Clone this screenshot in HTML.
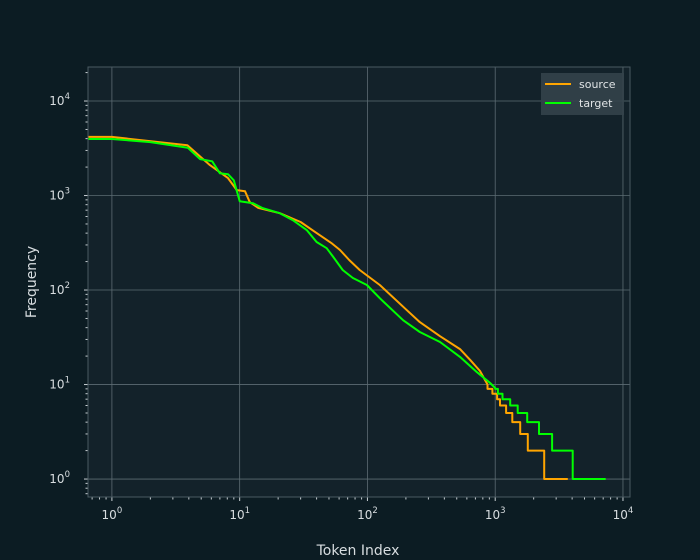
<!DOCTYPE html>
<html><head><meta charset="utf-8"><style>
body{margin:0;background:#0c1c23;}
svg{display:block;font-family:"DejaVu Sans","Liberation Sans",sans-serif;}
</style></head><body>
<svg id="chart" width="700" height="560">
<rect width="700" height="560" fill="#0c1c23"/>
<rect x="88" y="67" width="542" height="430" fill="#13222a"/>
<g id="grid"></g><g id="ticks"></g><g id="series"></g>
<rect x="88" y="67" width="542" height="430" fill="none" stroke="#4a5a62" stroke-width="1"/>
<text x="358" y="555" fill="#d8dde0" font-size="14" text-anchor="middle">Token Index</text>
<text x="36" y="282" fill="#d8dde0" font-size="14" text-anchor="middle" transform="rotate(-90 36 282)">Frequency</text>
<g>
<rect x="541" y="73" width="83" height="42" fill="#34434a" opacity="0.9"/>
<line x1="545" y1="84" x2="571" y2="84" stroke="#ffa500" stroke-width="2"/>
<text x="579" y="88" fill="#e0e4e6" font-size="11">source</text>
<line x1="545" y1="103" x2="571" y2="103" stroke="#00ff00" stroke-width="2"/>
<text x="579" y="107" fill="#e0e4e6" font-size="11">target</text>
</g>
</svg>
<script>
const sourceRanks=[0.65,1,3.9,5.85,8.1,9.5,11,12,14,20.6,30,39,52,61,72,87,125,204,257,370,530,640,760,870,870,950,950,1035,1035,1090,1090,1218,1218,1360,1360,1570,1570,1800,1800,2420,2420,3700];
const sourceFreqs=[4170,4170,3400,2100,1530,1140,1110,850,740,650,525,410,315,265,208,163,113,61,45.8,32.5,23.7,18.1,13.9,10,9,9,8,8,7,7,6,6,5,5,4,4,3,3,2,2,1,1];
const targetRanks=[0.65,1,2,3.93,4.9,6.1,7,8.1,9,10,12.7,15,20.6,26,33.6,40,48,54,64,77,99,125,190,257,370,530,720,910,1000,1000,1050,1050,1140,1140,1310,1310,1500,1500,1780,1780,2200,2200,2790,2790,4040,4040,7330];
const targetFreqs=[3960,3960,3680,3200,2430,2300,1720,1680,1450,870,830,740,650,550,430,322,277,224,163,134,113,82,48,36,28.2,19.6,13.5,10.4,9.2,9,9,8,8,7,7,6,6,5,5,4,4,3,3,2,2,1,1];
const xTickVals=[1,10,100,1000,10000];
const xTickLabels=["0","1","2","3","4"];
const yTickVals=[1,10,100,1000,10000];
const yTickLabels=["0","1","2","3","4"];
const L=88,R=630,T=67,B=497;
const xmin=Math.log10(0.65),xmax=4.055,ymin=-0.19,ymax=4.36;
const X=v=>L+(Math.log10(v)-xmin)/(xmax-xmin)*(R-L);
const Y=v=>B-(Math.log10(v)-ymin)/(ymax-ymin)*(B-T);
const NS="http://www.w3.org/2000/svg";
const grid=document.getElementById('grid'),ticks=document.getElementById('ticks'),ser=document.getElementById('series');
function mk(tag,attrs,parent){const e=document.createElementNS(NS,tag);for(const k in attrs)e.setAttribute(k,attrs[k]);parent.appendChild(e);return e;}
xTickVals.forEach((v,i)=>{const x=X(v);
 const g=mk('line',{x1:x,x2:x,y1:T,y2:B,stroke:'#5d6c73','stroke-width':0.8},grid);
 
 
 const t=mk('line',{x1:x,x2:x,y1:B,y2:B+4,stroke:'#c8cfd3'},ticks);
 
 
 const tx=mk('text',{x:x,y:B+22,fill:'#d8dde0','font-size':12,'text-anchor':'middle'},ticks);
 
 
 tx.innerHTML='10<tspan dy="-6" font-size="8.5">'+xTickLabels[i]+'</tspan>';
});
yTickVals.forEach((v,i)=>{const y=Y(v);
 const g=mk('line',{x1:L,x2:R,y1:y,y2:y,stroke:'#5d6c73','stroke-width':0.8},grid);
 
 
 const t=mk('line',{x1:L-4,x2:L,y1:y,y2:y,stroke:'#c8cfd3'},ticks);
 
 
 const tx=mk('text',{x:L-18,y:y+4,fill:'#d8dde0','font-size':12,'text-anchor':'end'},ticks);
 
 
 tx.innerHTML='10<tspan dy="-6" font-size="8.5">'+yTickLabels[i]+'</tspan>';
});
for(let d=-1;d<5;d++)for(let m=2;m<10;m++){
 const xv=m*Math.pow(10,d);if(xv>0.66&&xv<11300){const t=mk('line',{x1:X(xv),x2:X(xv),y1:B,y2:B+2.5,stroke:'#c8cfd3'},ticks);
 
 }
 const yv=m*Math.pow(10,d);if(yv>0.66&&yv<22900){const t=mk('line',{x1:L-2.5,x2:L,y1:Y(yv),y2:Y(yv),stroke:'#c8cfd3'},ticks);
 
 }
}
function line(rs,fs,color,name){const p=rs.map((r,i)=>X(r).toFixed(1)+','+Y(fs[i]).toFixed(1)).join(' ');
 const e=mk('polyline',{points:p,fill:'none',stroke:color,'stroke-width':2,'stroke-linejoin':'round'},ser);
 
 }
line(sourceRanks,sourceFreqs,'#ffa500','source-line');
line(targetRanks,targetFreqs,'#00ff00','target-line');
</script>
</body></html>
